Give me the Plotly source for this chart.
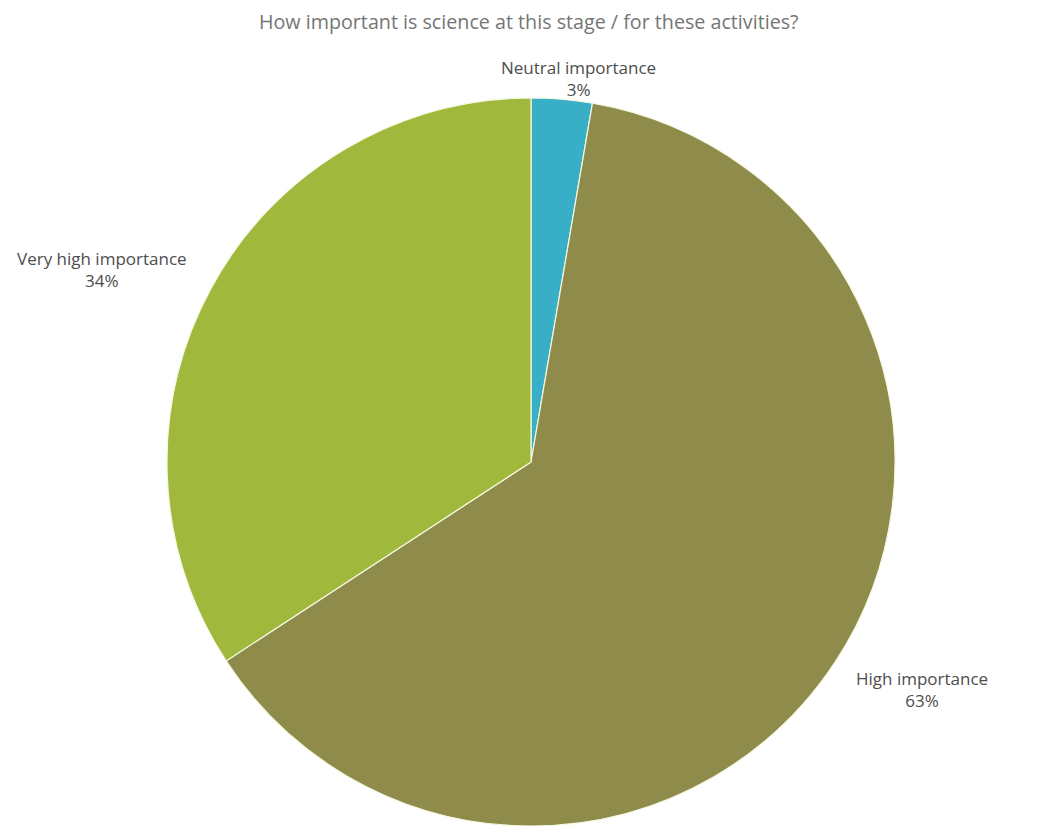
import plotly.graph_objects as go

labels = ["Neutral importance", "High importance", "Very high importance"]
values = [2.7, 63.1, 34.2]
colors = ["#38AFC6", "#8F8B4B", "#A0B83C"]
title_text = "How important is science at this stage / for these activities?"

W, H = 1045, 826
OFF = 8  # default page body margin
cx, cy, r = 531 - OFF, 462 - OFF, 364

fig = go.Figure(go.Pie(
    labels=labels, values=values, sort=False, direction="clockwise", rotation=0,
    marker=dict(colors=colors, line=dict(color="#F4F8E0", width=1.2)),
    textinfo="none", hoverinfo="label+percent", showlegend=False,
    domain=dict(x=[(cx - r) / W, (cx + r) / W], y=[(H - cy - r) / H, (H - cy + r) / H]),
))

FONT = "Open Sans, Liberation Sans, sans-serif"
total = sum(values)
label_pos = [(578, 78), (922, 689), (102, 269)]
for lab, v, (px, py) in zip(labels, values, label_pos):
    fig.add_annotation(
        x=(px - OFF) / W, y=1 - (py - OFF) / H, xref="paper", yref="paper",
        text=f"{lab}<br>{round(v / total * 100)}%", showarrow=False,
        font=dict(family=FONT, size=17, color="#4D4D4D"),
        xanchor="center", yanchor="middle", align="center",
    )

fig.add_annotation(
    x=(529 - OFF) / W, y=1 - (21 - OFF) / H, xref="paper", yref="paper", text=title_text,
    showarrow=False, font=dict(family=FONT, size=19.7, color="#757575"),
    xanchor="center", yanchor="middle",
)

fig.update_layout(
    width=W, height=H, margin=dict(l=0, r=0, t=0, b=0),
    paper_bgcolor="white", plot_bgcolor="white",
)
fig.write_html("out.html")
